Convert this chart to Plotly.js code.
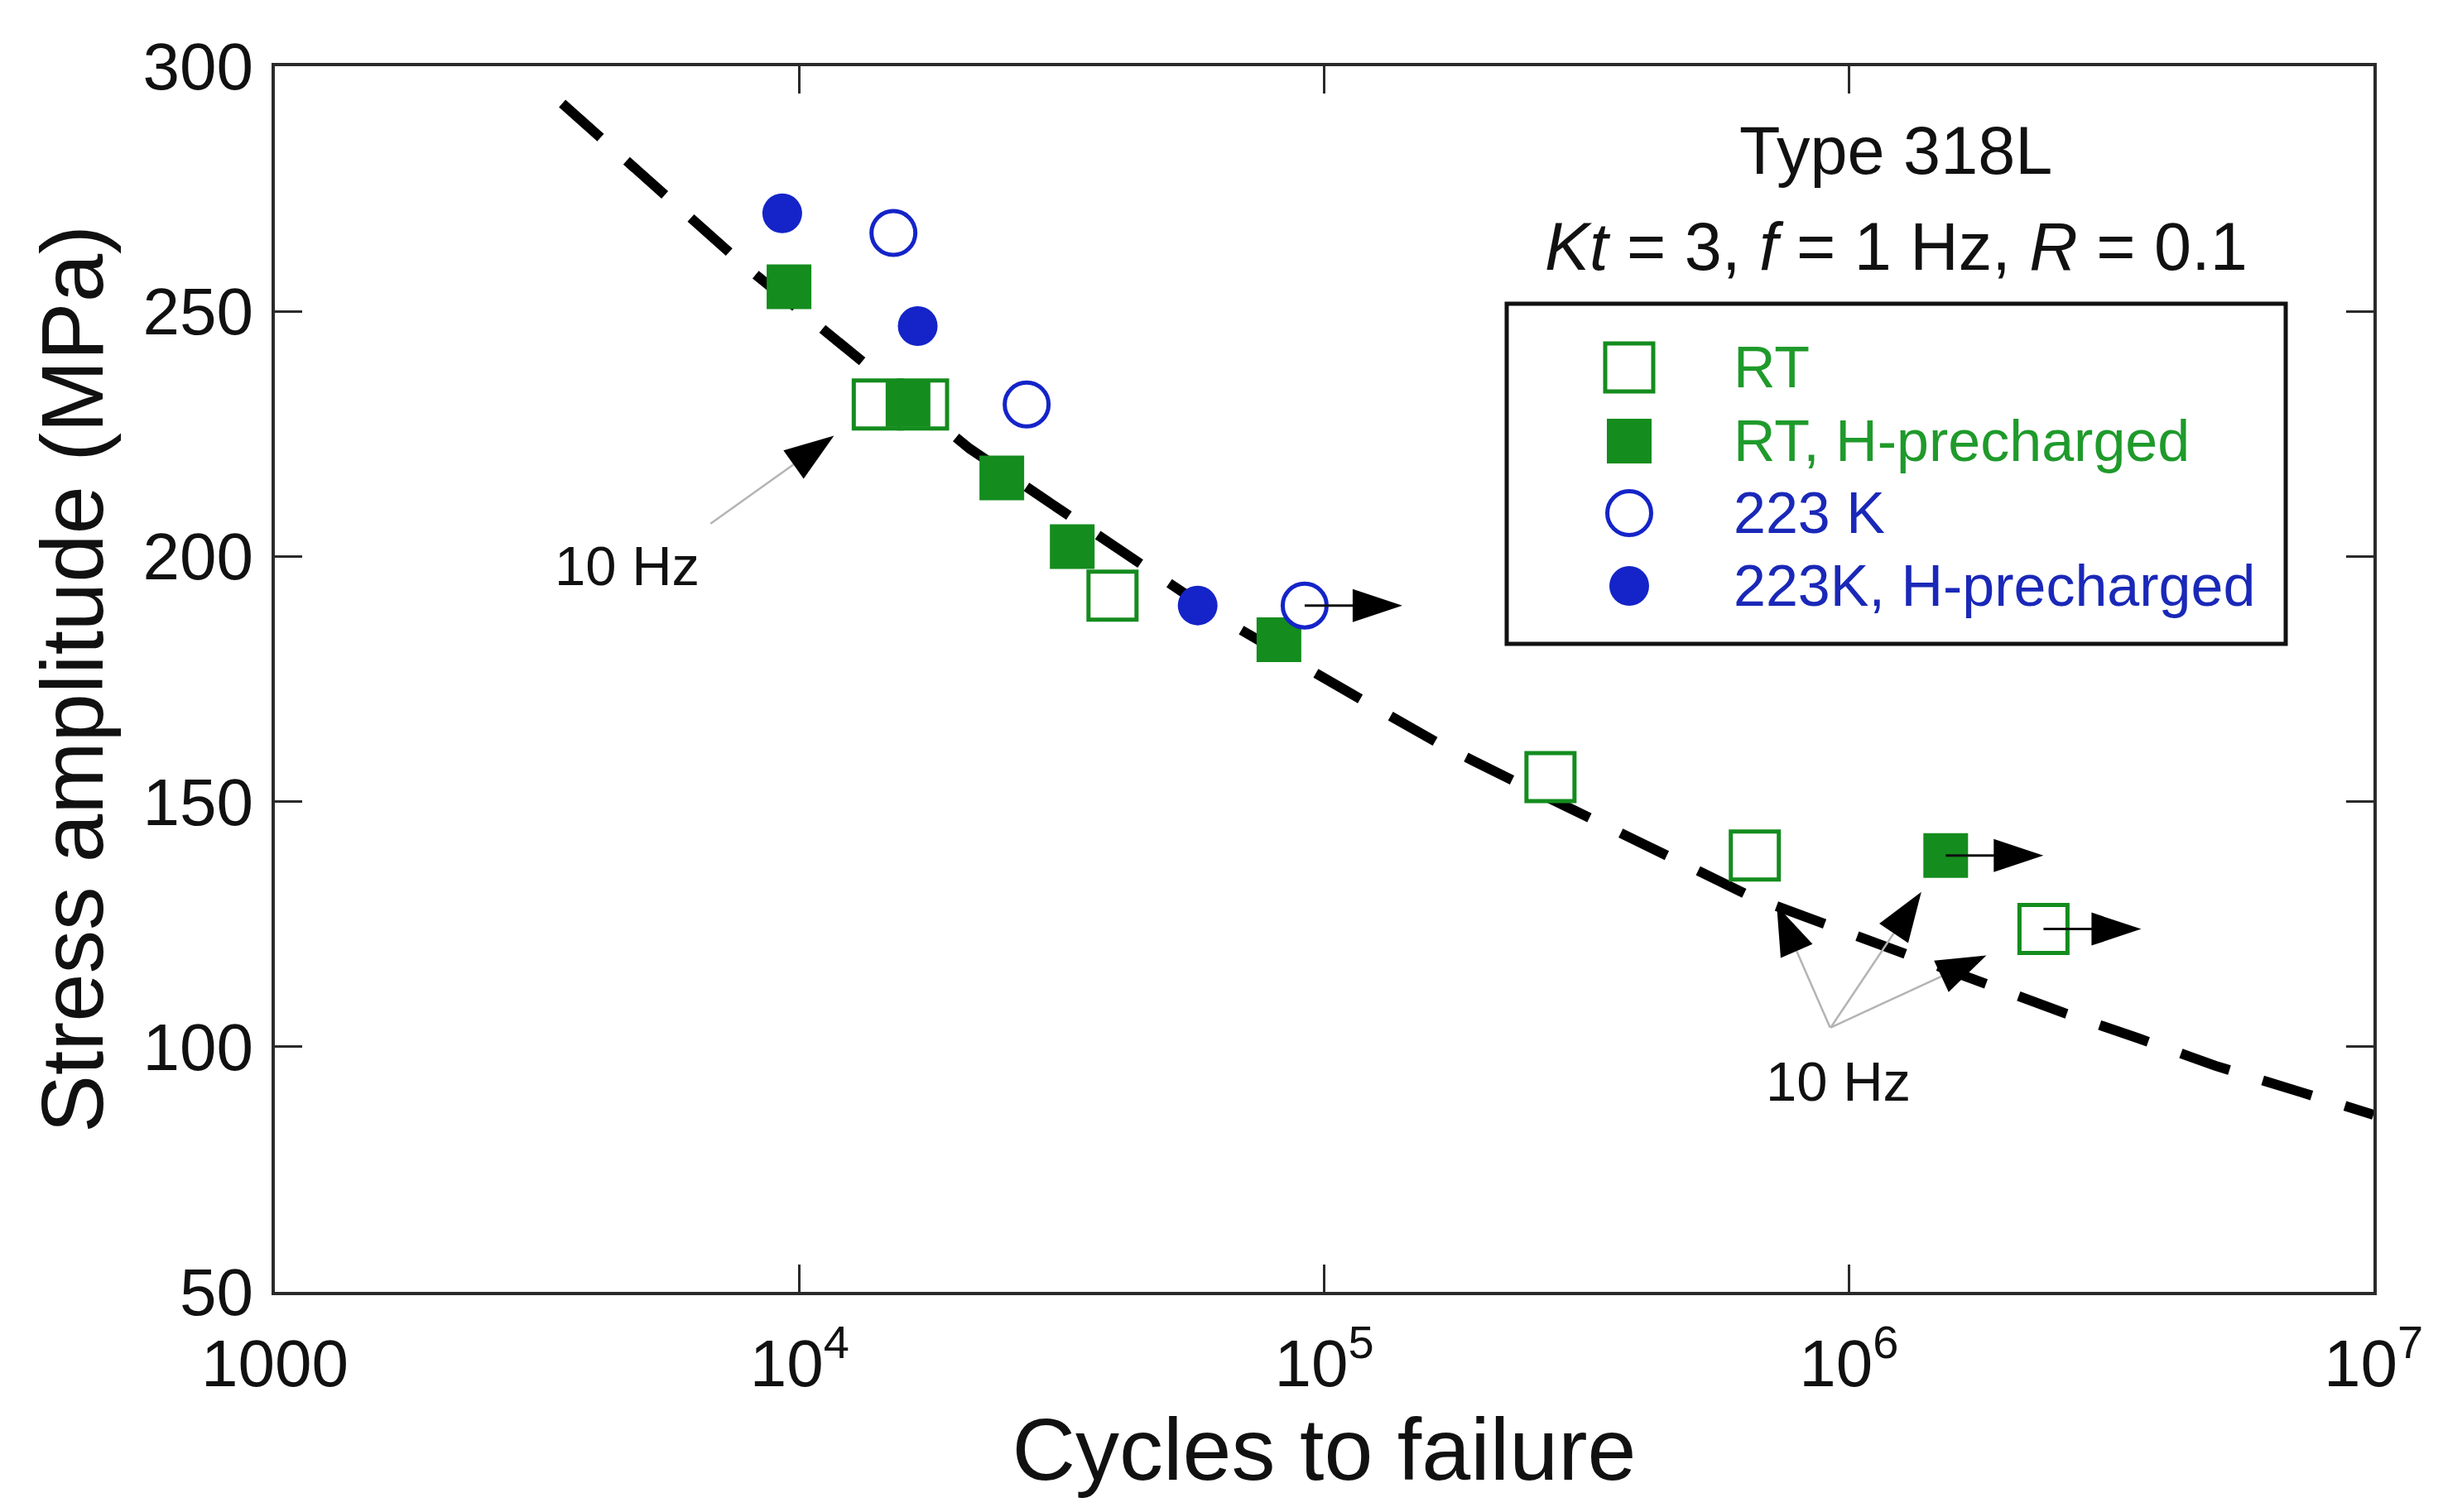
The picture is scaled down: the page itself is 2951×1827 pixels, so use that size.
<!DOCTYPE html>
<html>
<head>
<meta charset="utf-8">
<script src="https://cdn.plot.ly/plotly-3.0.1.min.js"></script>
<style>
  html, body { margin: 0; padding: 0; background: #ffffff; }
  #chart { width: 2951px; height: 1827px; }
</style>
</head>
<body>
<div id="chart"></div>
<script>
// ---------------- data ----------------
// RT, open squares
const rtN = [14100, 17200, 39500, 270000, 662000, 2350000];
const rtS = [231, 231, 192, 155, 139, 124];
const rtFreqHz = [10, 1, 1, 1, 10, 10];
const rtRunout = [false, false, false, false, false, true];

// RT, H-precharged, filled squares
const rthN = [9550, 16100, 24300, 33100, 82000, 1530000];
const rthS = [255, 231, 216, 202, 183, 139];
const rthFreqHz = [1, 1, 1, 1, 1, 10];
const rthRunout = [false, false, false, false, false, true];

// 223 K, open circles
const k223N = [15100, 27100, 91800];
const k223S = [266, 231, 190];
const k223Runout = [false, false, true];

// 223 K, H-precharged, filled circles
const k223hN = [9270, 16800, 57400];
const k223hS = [270, 247, 190];

// dashed fatigue curve
const fitN = [3530, 7760, 21100, 30600, 42400, 64700, 117000, 167000, 227000, 331000,
              457000, 649000, 912000, 1770000, 2570000, 3570000, 5000000, 7290000, 10000000];
const fitS = [292.4, 259.8, 222.0, 210.4, 199.9, 186.9, 171.0, 161.6, 154.5, 145.9,
              138.5, 130.7, 124.8, 113.3, 106.9, 101.7, 96.1, 90.7, 86.1];

const seriesNames = ['RT', 'RT, H-precharged', '223 K', '223K, H-precharged'];
const xTickVals = [1000, 10000, 100000, 1000000, 10000000];
const xTickText = ['1000', '10<sup>4</sup>', '10<sup>5</sup>', '10<sup>6</sup>', '10<sup>7</sup>'];
const yTickVals = [50, 100, 150, 200, 250, 300];
const noteTitle = 'Type 318L';
const noteCond = '<i>Kt</i> = 3, <i>f</i> = 1 Hz, <i>R</i> = 0.1';
const noteFreq = '10 Hz';

// ---------------- styles ----------------
const GREEN = '#148c1e';
const GREEN_TXT = '#1f9a2b';
const BLUE = '#1424c8';
const BLUE_TXT = '#1a28b8';
const INK = '#111111';
const AX = '#2a2a2a';
const FONT = 'Liberation Sans, Arial, Helvetica, sans-serif';
const SZ = { rt: 58, rth: 54, k: 53, kh: 48, lw: 5 };
const RUN = { lineEnd: 80, tip: 118, len: 60, half: 20 };
const HEAD = { len: 60, width: 42 };
// leader lines for the 10 Hz tests: tail offset (screen px) from the point, and standoff of the tip
const rtLeader = [[-202, 144, 65], null, null, null, [91, 208, 66], [-257, 119, 76]];
const rthLeader = [null, null, null, null, null, [-139, 208, 53]];

// plot area in px
const W = 2951, H = 1827;
const M = { l: 332, r: 84, t: 80, b: 266 };
const PW = W - M.l - M.r, PH = H - M.t - M.b;
const px2paperX = x => (x - M.l) / PW;
const px2paperY = y => (H - M.b - y) / PH;

// ---------------- traces ----------------
const traces = [
  { x: fitN, y: fitS, mode: 'lines', type: 'scatter', name: 'fit',
    line: { color: '#000', width: 12, dash: '62px,42px' }, hoverinfo: 'skip', showlegend: false },
  { x: rtN, y: rtS, mode: 'markers', type: 'scatter', name: seriesNames[0],
    marker: { symbol: 'square', size: SZ.rt, color: '#ffffff', line: { color: GREEN, width: SZ.lw } } },
  { x: rthN, y: rthS, mode: 'markers', type: 'scatter', name: seriesNames[1],
    marker: { symbol: 'square', size: SZ.rth, color: GREEN, line: { width: 0 } } },
  { x: k223N, y: k223S, mode: 'markers', type: 'scatter', name: seriesNames[2],
    marker: { symbol: 'circle', size: SZ.k, color: '#ffffff', line: { color: BLUE, width: SZ.lw } } },
  { x: k223hN, y: k223hS, mode: 'markers', type: 'scatter', name: seriesNames[3],
    marker: { symbol: 'circle', size: SZ.kh, color: BLUE, line: { width: 0 } } }
];

// ---------------- shapes (runout arrows, 10 Hz pointers, legend) ----------------
const shapes = [];
const noLine = { color: 'rgba(0,0,0,0)', width: 0 };

function addRunout(N, S) {
  shapes.push({ type: 'path', xref: 'x', yref: 'y', xsizemode: 'pixel', ysizemode: 'pixel',
    xanchor: N, yanchor: S, path: `M0,0 L${RUN.lineEnd},0`, line: { color: INK, width: 3 } });
  const b = RUN.tip - RUN.len;
  shapes.push({ type: 'path', xref: 'x', yref: 'y', xsizemode: 'pixel', ysizemode: 'pixel',
    xanchor: N, yanchor: S, path: `M${RUN.tip},0 L${b},${RUN.half} L${b},${-RUN.half} Z`,
    fillcolor: '#000', line: noLine });
}
function addLeader(N, S, lead) {
  const [dx, dy, s] = lead;
  const len = Math.hypot(dx, dy), ux = dx / len, uy = dy / len;
  const tx = ux * s, ty = uy * s;
  const bx = ux * (s + HEAD.len), by = uy * (s + HEAD.len);
  const nx = -uy * HEAD.width / 2, ny = ux * HEAD.width / 2;
  shapes.push({ type: 'path', xref: 'x', yref: 'y', xsizemode: 'pixel', ysizemode: 'pixel',
    xanchor: N, yanchor: S, path: `M${bx},${-by} L${dx},${-dy}`, line: { color: '#b4b4b4', width: 2.5 } });
  shapes.push({ type: 'path', xref: 'x', yref: 'y', xsizemode: 'pixel', ysizemode: 'pixel',
    xanchor: N, yanchor: S,
    path: `M${tx},${-ty} L${bx + nx},${-(by + ny)} L${bx - nx},${-(by - ny)} Z`,
    fillcolor: '#000', line: noLine });
}
rtN.forEach((n, i) => { if (rtRunout[i]) addRunout(n, rtS[i]); });
rthN.forEach((n, i) => { if (rthRunout[i]) addRunout(n, rthS[i]); });
k223N.forEach((n, i) => { if (k223Runout[i]) addRunout(n, k223S[i]); });
rtN.forEach((n, i) => { if (rtFreqHz[i] === 10 && rtLeader[i]) addLeader(n, rtS[i], rtLeader[i]); });
rthN.forEach((n, i) => { if (rthFreqHz[i] === 10 && rthLeader[i]) addLeader(n, rthS[i], rthLeader[i]); });

// legend box
shapes.push({ type: 'rect', xref: 'paper', yref: 'paper',
  x0: px2paperX(1820), x1: px2paperX(2761), y0: px2paperY(778), y1: px2paperY(367),
  line: { color: '#111', width: 5 }, fillcolor: 'rgba(255,255,255,0)' });
const legSymX = px2paperX(1968);
const legTxtX = px2paperX(2092);
const legRowsY = [444, 533, 620, 708].map(px2paperY);
function legShape(kind, half, yv, fill, lineC) {
  shapes.push({ type: kind, xref: 'paper', yref: 'paper', xsizemode: 'pixel', ysizemode: 'pixel',
    xanchor: legSymX, yanchor: yv, x0: -half, x1: half, y0: -half, y1: half,
    fillcolor: fill, line: lineC ? { color: lineC, width: SZ.lw } : noLine });
}
legShape('rect', SZ.rt / 2, legRowsY[0], '#ffffff', GREEN);
legShape('rect', SZ.rth / 2, legRowsY[1], GREEN, null);
legShape('circle', SZ.k / 2, legRowsY[2], '#ffffff', BLUE);
legShape('circle', SZ.kh / 2, legRowsY[3], BLUE, null);

// ---------------- annotations ----------------
const annotations = [
  { text: noteTitle, xref: 'paper', yref: 'paper', x: px2paperX(2290), y: px2paperY(182),
    xanchor: 'center', yanchor: 'middle', showarrow: false, font: { family: FONT, size: 81, color: INK } },
  { text: noteCond, xref: 'paper', yref: 'paper', x: px2paperX(2290), y: px2paperY(298),
    xanchor: 'center', yanchor: 'middle', showarrow: false, font: { family: FONT, size: 81, color: INK } },
  { text: noteFreq, xref: 'paper', yref: 'paper', x: px2paperX(757), y: px2paperY(683),
    xanchor: 'center', yanchor: 'middle', showarrow: false, font: { family: FONT, size: 67, color: INK } },
  { text: noteFreq, xref: 'paper', yref: 'paper', x: px2paperX(2220), y: px2paperY(1306),
    xanchor: 'center', yanchor: 'middle', showarrow: false, font: { family: FONT, size: 67, color: INK } }
];
const legColors = [GREEN_TXT, GREEN_TXT, BLUE_TXT, BLUE_TXT];
seriesNames.forEach((nm, i) => {
  annotations.push({ text: nm, xref: 'paper', yref: 'paper', x: legTxtX, y: legRowsY[i],
    xanchor: 'left', yanchor: 'middle', showarrow: false,
    font: { family: FONT, size: 70, color: legColors[i] } });
});

// ---------------- layout ----------------
const axisCommon = {
  showline: true, linecolor: AX, linewidth: 4, mirror: 'ticks',
  ticks: 'inside', ticklen: 33, tickwidth: 3, tickcolor: AX,
  showgrid: false, zeroline: false,
  tickfont: { family: FONT, size: 80, color: INK }
};
const layout = {
  width: W, height: H,
  margin: M,
  paper_bgcolor: '#ffffff', plot_bgcolor: '#ffffff',
  showlegend: false,
  font: { family: FONT, color: INK },
  xaxis: Object.assign({}, axisCommon, {
    type: 'log', range: [3, 7], tickmode: 'array', tickvals: xTickVals, ticktext: xTickText,
    ticklabelstandoff: 14,
    title: { text: 'Cycles to failure', font: { family: FONT, size: 106, color: INK }, standoff: 22 }
  }),
  yaxis: Object.assign({}, axisCommon, {
    type: 'linear', range: [50, 300], tickmode: 'array', tickvals: yTickVals,
    ticklabelstandoff: 6,
    title: { text: 'Stress amplitude (MPa)', font: { family: FONT, size: 105, color: INK }, standoff: 14 }
  }),
  shapes: shapes,
  annotations: annotations
};

Plotly.newPlot('chart', traces, layout, { displayModeBar: false, staticPlot: true });
</script>
</body>
</html>
